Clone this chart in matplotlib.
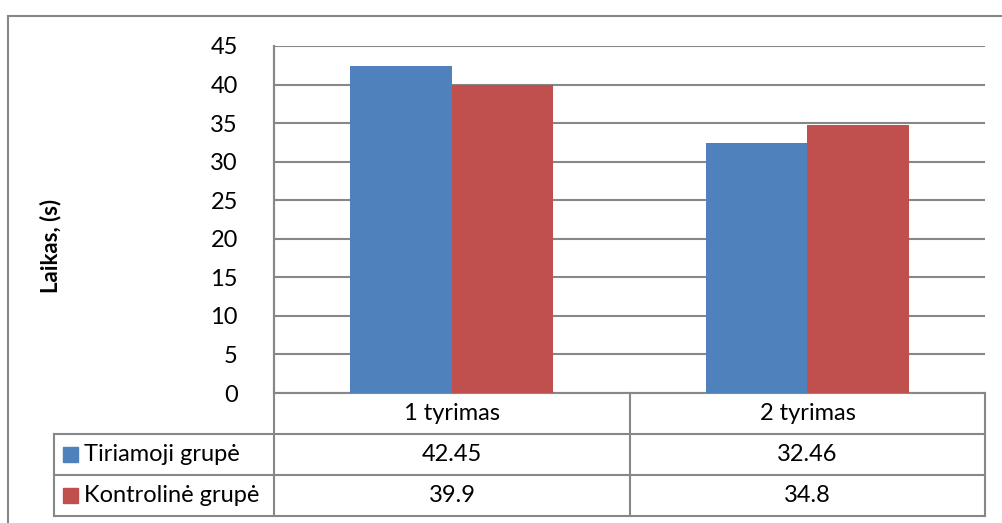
import matplotlib
matplotlib.use("Agg")
import matplotlib.pyplot as plt
from matplotlib.patches import Rectangle

plt.rcParams['font.family'] = ['Lato', 'DejaVu Sans']

# duomenys
categories = ['1 tyrimas', '2 tyrimas']
series_names = ['Tiriamoji grupė', 'Kontrolinė grupė']
tiriamoji = [42.45, 32.46]
kontroline = [39.9, 34.8]
series_values = [tiriamoji, kontroline]
colors = ['#4F81BD', '#C0504D']
y_ticks = [0, 5, 10, 15, 20, 25, 30, 35, 40, 45]

W, H = 1003, 523
GRID = '#878787'
FS = 17
fig = plt.figure(figsize=(W / 100, H / 100), dpi=100)

# overlay in pixel coordinates for frame and data table
ov = fig.add_axes([0, 0, 1, 1])
ov.set_xlim(0, W)
ov.set_ylim(H, 0)
ov.axis('off')

# plot area (pixels)
left, right, top, bottom = 274, 985, 46, 393
ax = fig.add_axes([left / W, 1 - bottom / H, (right - left) / W, (bottom - top) / H])
ax.set_zorder(2)
ax.patch.set_alpha(0)

n = len(series_values)
bar_w = 1 / 3.5
for i, (vals, col) in enumerate(zip(series_values, colors)):
    xs = [c + (i - (n - 1) / 2) * bar_w for c in range(len(categories))]
    ax.bar(xs, vals, width=bar_w, color=col, zorder=3, linewidth=0)

ax.set_xlim(-0.5, len(categories) - 0.5)
ax.set_ylim(0, 45)
ax.set_yticks(y_ticks)
ax.set_yticklabels([str(t) for t in y_ticks], fontsize=FS)
ax.tick_params(axis='y', length=0, pad=26)
ax.set_xticks([])
ax.yaxis.grid(True, color=GRID, linewidth=1.5, zorder=0)
for s in ['top', 'right', 'bottom']:
    ax.spines[s].set_visible(False)
ax.spines['left'].set_color(GRID)
ax.spines['left'].set_linewidth(1.5)

ov.text(51, 246, 'Laikas, (s)', rotation=90, ha='center', va='center',
        fontsize=16, fontweight='bold')

# outer frame
ov.plot([8, W], [16, 16], color=GRID, lw=1.5)
ov.plot([8, 8], [16, H], color=GRID, lw=1.5)

# data table
row_y = [393, 434, 475, 516]
col_x = [54, 274, 630, 985]
lw = 1.5
for y in row_y[1:]:
    ov.plot([col_x[0], col_x[-1]], [y, y], color=GRID, lw=lw)
ov.plot([col_x[1], col_x[-1]], [row_y[0], row_y[0]], color=GRID, lw=lw)
ov.plot([col_x[0], col_x[0]], [row_y[1], row_y[-1]], color=GRID, lw=lw)
ov.plot([col_x[1], col_x[1]], [top, row_y[-1]], color=GRID, lw=lw)
for x in col_x[2:]:
    ov.plot([x, x], [row_y[0], row_y[-1]], color=GRID, lw=lw)

for j, cat in enumerate(categories):
    cx = (col_x[j + 1] + col_x[j + 2]) / 2
    ov.text(cx, (row_y[0] + row_y[1]) / 2, cat, ha='center', va='center', fontsize=FS)

for i, (name, vals, col) in enumerate(zip(series_names, series_values, colors)):
    cy = (row_y[i + 1] + row_y[i + 2]) / 2
    ov.add_patch(Rectangle((63, cy - 7.5), 15, 15, color=col))
    ov.text(84, cy, name, ha='left', va='center', fontsize=FS)
    for j, v in enumerate(vals):
        cx = (col_x[j + 1] + col_x[j + 2]) / 2
        ov.text(cx, cy, f'{v:g}', ha='center', va='center', fontsize=FS)

fig.savefig('out.png', dpi=100)
